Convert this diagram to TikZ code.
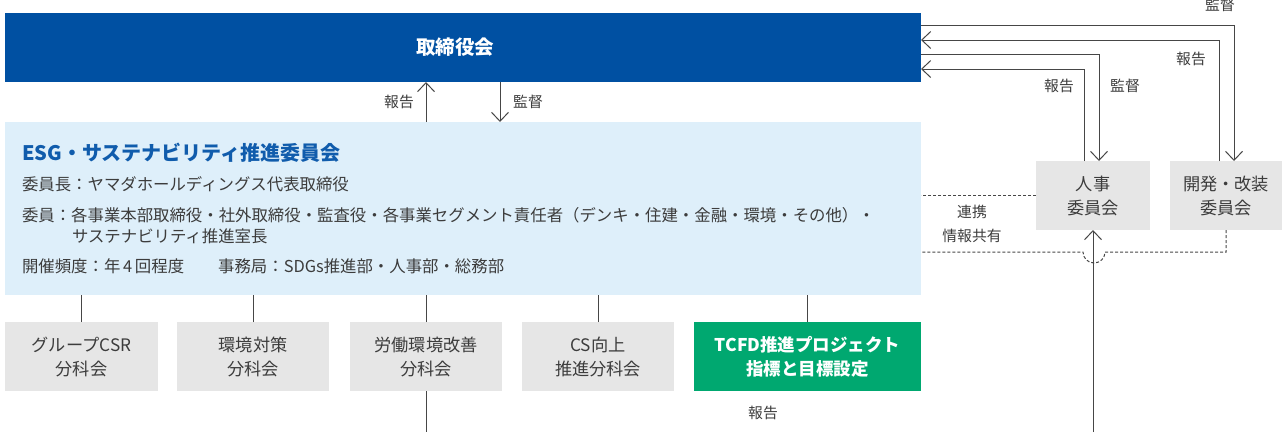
\documentclass[tikz,border=0pt]{standalone}
\usepackage{fontspec}
\setmainfont{Noto Sans CJK JP}
\usetikzlibrary{arrows.meta,calc}
\definecolor{boardblue}{RGB}{0,80,162}
\definecolor{esgbg}{RGB}{222,239,250}
\definecolor{boxgray}{RGB}{230,230,230}
\definecolor{tcfdgreen}{RGB}{0,168,112}
\definecolor{titleblue}{RGB}{16,92,172}
\definecolor{txt}{RGB}{60,60,60}
\definecolor{ln}{RGB}{70,70,70}
\begin{document}
\begin{tikzpicture}[x=1pt,y=-1pt,
  every node/.style={inner sep=0pt,outer sep=0pt},
  boxbase/.style={rectangle,anchor=north west,align=center,font=\fontsize{17.2}{24}\selectfont},
  subbox/.style={boxbase,fill=boxgray,text=txt},
  body/.style={anchor=base west,text=txt,font=\fontsize{16.4}{20}\selectfont},
  lbl/.style={text=txt,font=\fontsize{14.8}{24}\selectfont,align=center},
  conn/.style={draw=ln,line width=1pt},
  tip/.style={-{Straight Barb[length=9pt,width=17pt,line width=1pt]}},
  dashline/.style={draw=ln,line width=1pt,dash pattern=on 3pt off 2pt}
]
\useasboundingbox (0,0) rectangle (1282,432);

% board
\node[boxbase,fill=boardblue,text=white,minimum width=916,minimum height=69,
      font=\fontsize{19.5}{24}\selectfont\bfseries] (board) at (5,13) {取締役会\hspace*{16pt}};

% ESG box
\node[boxbase,fill=esgbg,minimum width=916,minimum height=173] (esg) at (5,122) {};
\node[anchor=base west,text=titleblue,font=\fontsize{20}{24}\selectfont\bfseries] (esgt) at (22,160) {ESG・サステナビリティ推進委員会};
\node[body] (l1) at (22,190) {委員長：ヤマダホールディングス代表取締役};
\node[body] (l2) at (22,221) {委員：各事業本部取締役・社外取締役・監査役・各事業セグメント責任者（デンキ・住建・金融・環境・その他）・};
\node[body] (l3) at (72,242) {サステナビリティ推進室長};
\node[body] (l4) at (22,272) {開催頻度：年\,4\,回程度\hspace{34pt}事務局：SDGs推進部・人事部・総務部};

% sub boxes
\node[subbox,minimum width=153,minimum height=69] (s1) at (5,322) {グループCSR\\分科会};
\node[subbox,minimum width=152,minimum height=69] (s2) at (177,322) {環境対策\\分科会};
\node[subbox,minimum width=152,minimum height=69] (s3) at (350,322) {労働環境改善\\分科会};
\node[subbox,minimum width=152,minimum height=69] (s4) at (522,322) {CS向上\\推進分科会};
\node[boxbase,fill=tcfdgreen,text=white,minimum width=227,minimum height=69,
      font=\fontsize{17.5}{24}\selectfont\bfseries] (s5) at (694,322) {TCFD推進プロジェクト\\指標と目標設定};

% right boxes
\node[subbox,minimum width=114,minimum height=69] (hr) at (1036,161) {人事\\委員会};
\node[subbox,minimum width=112,minimum height=69] (dev) at (1170,161) {開発・改装\\委員会};

% board <-> esg
\draw[conn,tip] (esg.north -| s3.north) -- (board.south -| s3.north);
\coordinate (dn) at (500,82);
\draw[conn,tip] (dn) -- (dn |- esg.north);
\node[lbl] (rep1) at (399,102) {報告};
\node[lbl] (sup1) at (528,102) {監督};

% esg -> sub boxes
\foreach \s in {s1,s2,s3,s4,s5} \draw[conn] (\s.north) -- (\s.north |- esg.south);
\coordinate (b1) at (426,432);
\draw[conn] (s3.south) -- (b1);
\node[lbl] (rep5) at (763,413) {報告};

% right side arrows
\draw[conn,tip] ($(board.north east)+(0,12)$) -| ($(dev.north)+(8,0)$);
\draw[conn,tip] ($(dev.north)+(-7,0)$) |- ($(board.north east)+(0,27)$);
\draw[conn,tip] ($(board.north east)+(0,41)$) -| ($(hr.north)+(6,0)$);
\draw[conn,tip] ($(hr.north)+(-9,0)$) |- ($(board.north east)+(0,56)$);
\node[lbl] (sup3) at (1220,5) {監督};
\node[lbl] (rep3) at (1191,59) {報告};
\node[lbl] (rep2) at (1059,86) {報告};
\node[lbl] (sup2) at (1125,86) {監督};

% collaboration dashed lines
\draw[dashline] (hr.west) -- (hr.west -| esg.east);
\coordinate (d1) at (1105,252);
\draw[dashline] (dev.south) |- (d1) arc (0:180:11) -- (d1 -| esg.east);
\node[lbl] (coop) at (972,224) {連携\\情報共有};

% bottom arrow into hr
\coordinate (b2) at (1093,432);
\draw[conn,tip] (b2) -- (hr.south);
\end{tikzpicture}
\end{document}
